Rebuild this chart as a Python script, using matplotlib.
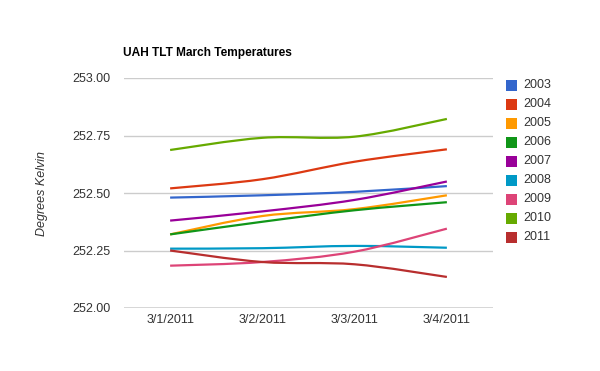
import matplotlib
matplotlib.use("Agg")
import matplotlib.pyplot as plt
from matplotlib.path import Path
from matplotlib.patches import PathPatch, Rectangle
import numpy as np

categories = ["3/1/2011", "3/2/2011", "3/3/2011", "3/4/2011"]
series_names = ["2003", "2004", "2005", "2006", "2007", "2008", "2009", "2010", "2011"]
s2003 = [252.48, 252.49, 252.505, 252.53]
s2004 = [252.52, 252.56, 252.636, 252.69]
s2005 = [252.32, 252.40, 252.43, 252.49]
s2006 = [252.32, 252.375, 252.425, 252.46]
s2007 = [252.38, 252.42, 252.47, 252.55]
s2008 = [252.258, 252.26, 252.27, 252.262]
s2009 = [252.184, 252.20, 252.245, 252.345]
s2010 = [252.687, 252.74, 252.745, 252.822]
s2011 = [252.25, 252.20, 252.19, 252.135]
values = [s2003, s2004, s2005, s2006, s2007, s2008, s2009, s2010, s2011]
colors = ["#3366cc", "#dc3912", "#ff9900", "#109618", "#990099",
          "#0099c6", "#dd4477", "#66aa00", "#b82e2e"]
yticks = [252.00, 252.25, 252.50, 252.75, 253.00]

plt.rcParams['font.family'] = ['Liberation Sans', 'DejaVu Sans']

W, H = 600, 371
fig = plt.figure(figsize=(W / 100, H / 100), dpi=100)
ax = fig.add_axes([124 / W, 1 - 308 / H, 369 / W, 230 / H])


def smooth_path(x, y, f=1 / 6):
    x = np.asarray(x, float)
    y = np.asarray(y, float)
    n = len(x)
    verts = [(x[0], y[0])]
    codes = [Path.MOVETO]
    for i in range(n - 1):
        i0 = max(i - 1, 0)
        i3 = min(i + 2, n - 1)
        c1 = (x[i] + (x[i + 1] - x[i0]) * f, y[i] + (y[i + 1] - y[i0]) * f)
        c2 = (x[i + 1] - (x[i3] - x[i]) * f, y[i + 1] - (y[i3] - y[i]) * f)
        verts += [c1, c2, (x[i + 1], y[i + 1])]
        codes += [Path.CURVE4] * 3
    return Path(verts, codes)


xs = np.arange(len(categories))
for vals, c in zip(values, colors):
    p = smooth_path(xs, vals)
    ax.add_patch(PathPatch(p, facecolor="none", edgecolor=c, lw=1.6,
                           capstyle="butt", zorder=3))

ax.set_xlim(-0.5, len(categories) - 0.5)
ax.set_ylim(yticks[0], yticks[-1])
ax.set_yticks(yticks)
ax.set_yticklabels([f"{v:.2f}" for v in yticks])
ax.set_xticks(xs)
ax.set_xticklabels(categories)
ax.tick_params(axis="y", length=0, labelsize=9, colors="#333333", pad=9.5)
ax.tick_params(axis="x", length=0, labelsize=9, colors="#333333", pad=4)
for s in ax.spines.values():
    s.set_visible(False)
for v in yticks[1:]:
    ax.axhline(v, color="#cccccc", lw=1, zorder=1)
ax.axhline(yticks[0], color="#333333", lw=1, zorder=4)

fig.text(42 / W, 1 - 193 / H, "Degrees Kelvin", fontstyle="italic", fontsize=9,
         color="#333333", rotation=90, ha="center", va="center")

fig.text(123 / W, 1 - 53 / H, "UAH TLT March Temperatures", fontsize=8.6,
         fontweight="bold", va="center", ha="left", color="black")

for i, (name, c) in enumerate(zip(series_names, colors)):
    yc = 85.5 + i * 18.95
    fig.patches.append(Rectangle((506 / W, 1 - (yc + 5.5) / H), 11 / W, 11 / H,
                                 transform=fig.transFigure, facecolor=c,
                                 edgecolor="none"))
    fig.text(523 / W, 1 - yc / H, name, fontsize=9, va="center", ha="left",
             color="#333333")

fig.savefig("out.png", dpi=100)
